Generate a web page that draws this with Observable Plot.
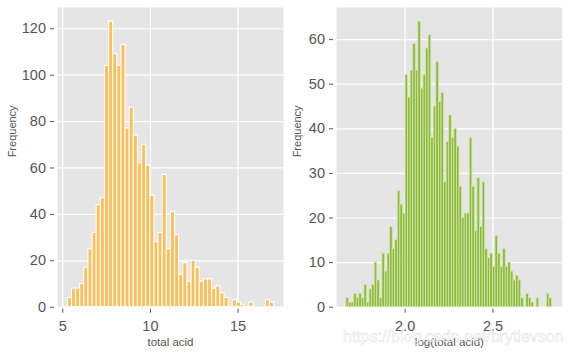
<!DOCTYPE html>
<html><head><meta charset="utf-8">
<script src="https://cdn.jsdelivr.net/npm/d3@7"></script>
<script src="https://cdn.jsdelivr.net/npm/@observablehq/plot@0.6"></script>
<style>
body{margin:0;background:#fff;}
#wrap{position:relative;width:568px;height:352px;overflow:hidden;font-family:"Liberation Sans",Arial,sans-serif;}
#wrap > svg{position:absolute;top:0;}
</style></head><body><div id="wrap"></div>
<script>
// Left histogram: total acid, 50 bins
const leftMin = 5.29, leftMax = 17.05;
const leftCounts = [4,8,8,10,17,25,32,44,47,104,
  123,109,104,113,77,86,74,62,70,61,
  48,28,32,57,25,41,31,14,19,11,
  20,17,11,12,12,8,9,6,4,0,
  3,2,1,0,2,0,0,0,3,2];
const leftXTicks = [5, 10, 15];
const leftYTicks = [0, 20, 40, 60, 80, 100, 120];

// Right histogram: log(total acid), 80 bins
const rightMin = 1.666, rightMax = 2.836;
const rightCounts = [2,1,1,3,2,3,2,5,1,4,
  5,10,6,2,12,8,12,18,13,15,
  26,23,21,52,47,53,59,53,64,49,
  52,58,61,38,45,55,46,48,28,37,
  43,38,40,36,27,20,21,21,38,27,
  17,29,18,28,13,11,12,9,16,12,
  9,13,9,10,8,6,7,6,2,0,
  3,2,1,0,2,0,0,0,3,2];
const rightXTicks = [2.0, 2.5];
const rightYTicks = [0, 10, 20, 30, 40, 50, 60];

function bins(min, max, counts) {
  const w = (max - min) / counts.length;
  return counts.map((c, i) => ({x1: min + i * w, x2: min + (i + 1) * w, count: c})).filter(d => d.count > 0);
}

function panel({data, xDomain, yDomain, xTicks, yTicks, fmt, fill, edge, edgeWidth, xlabel, marginLeft, marginRight, ylabelDx}) {
  return Plot.plot({
    width: 284, height: 352,
    marginLeft, marginRight, marginTop: 7, marginBottom: 45.3,
    x: {domain: xDomain, label: null},
    y: {domain: yDomain, label: null},
    style: {fontFamily: "'Liberation Sans', Arial, sans-serif", fontSize: "14px", color: "#555", background: "transparent", overflow: "visible"},
    marks: [
      Plot.frame({fill: "#e5e5e5", stroke: "none"}),
      Plot.gridX(xTicks, {stroke: "white", strokeOpacity: 1, strokeWidth: 1.2}),
      Plot.gridY(yTicks, {stroke: "white", strokeOpacity: 1, strokeWidth: 1.2}),
      Plot.rectY(data, {x1: "x1", x2: "x2", y: "count", fill, stroke: edge, strokeWidth: edgeWidth}),
      Plot.axisX(xTicks, {anchor: "bottom", tickSize: 4, tickPadding: 8, dy: 2, fontSize: 14.5, label: null, tickFormat: fmt}),
      Plot.axisY(yTicks, {anchor: "left", tickSize: 4, tickPadding: 4.5, dx: -3, fontSize: 14.5, label: null}),
      Plot.text([xlabel], {text: d => d, frameAnchor: "bottom", dy: 39, lineAnchor: "bottom", fontSize: 11.5, fill: "#555"}),
      Plot.text(["Frequency"], {text: d => d, frameAnchor: "left", dx: ylabelDx, rotate: -90, fontSize: 11, fill: "#555"})
    ]
  });
}

const wrap = document.getElementById("wrap");
const left = panel({
  data: bins(leftMin, leftMax, leftCounts),
  xDomain: [4.70, 17.59], yDomain: [0, 129.15],
  xTicks: leftXTicks, yTicks: leftYTicks, fmt: d => String(d),
  fill: "#fdc05c", edge: "white", edgeWidth: 1.1,
  xlabel: "total acid", marginLeft: 57, marginRight: 1, ylabelDx: -45.5
});
left.style.left = "0px";
wrap.appendChild(left);

const right = panel({
  data: bins(rightMin, rightMax, rightCounts),
  xDomain: [1.6095, 2.894], yDomain: [0, 67.2],
  xTicks: rightXTicks, yTicks: rightYTicks, fmt: d3.format(".1f"),
  fill: "#8dbb3c", edge: "#d2e4ad", edgeWidth: 0.8,
  xlabel: "log(total acid)", marginLeft: 52, marginRight: 6.3, ylabelDx: -39.5
});
right.style.left = "284px";
wrap.appendChild(right);

// watermark
const ns = "http://www.w3.org/2000/svg";
const wm = document.createElementNS(ns, "svg");
wm.setAttribute("width", 568); wm.setAttribute("height", 352);
wm.style.left = "0px"; wm.style.pointerEvents = "none";
const t = document.createElementNS(ns, "text");
t.setAttribute("x", 343); t.setAttribute("y", 342);
t.setAttribute("font-family", "'Liberation Sans', Arial, sans-serif");
t.setAttribute("font-size", 16);
t.setAttribute("fill", "rgba(255,255,255,0.85)");
t.setAttribute("stroke", "rgba(170,170,170,0.35)");
t.setAttribute("stroke-width", 0.6);
t.textContent = "https://blog.csdn.net/brytlevson";
wm.appendChild(t);
wrap.appendChild(wm);
</script></body></html>
